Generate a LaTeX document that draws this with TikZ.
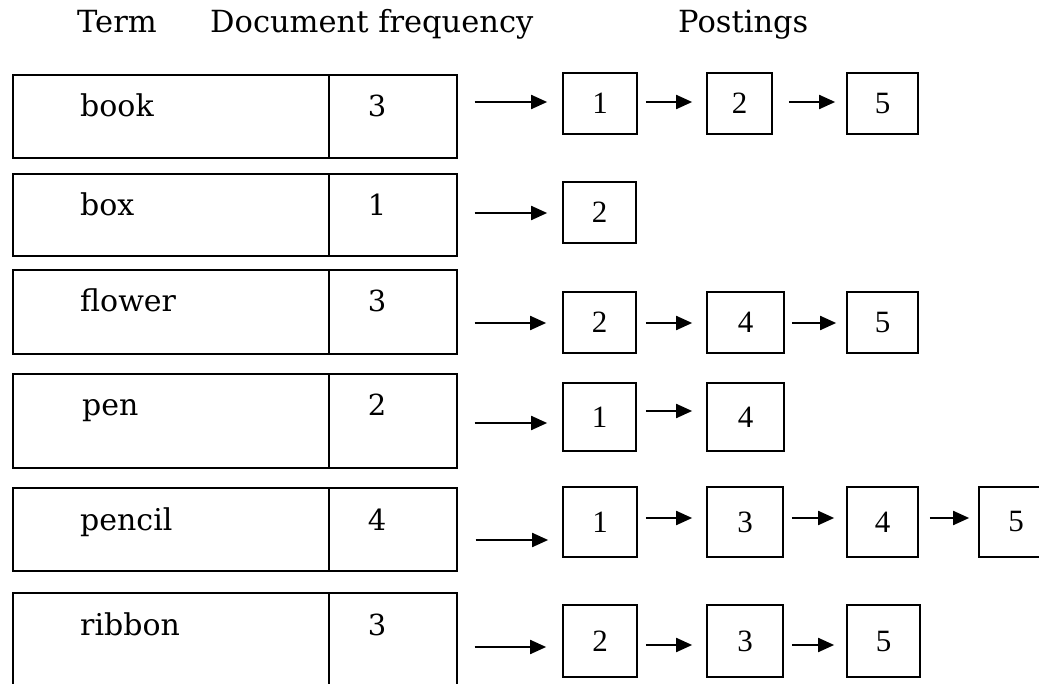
\documentclass[tikz,border=0pt]{standalone}
\usepackage{fontspec}
\setmainfont{DejaVu Serif}
\newfontfamily\tmsfont{Liberation Serif}
\usetikzlibrary{arrows.meta}
\newcommand\trow[6]{%
  \node[cell, minimum width=316pt, minimum height={(#3-#2)*1pt}] (#1t) at (12,#2) {};
  \node[cell, minimum width=128pt, minimum height={(#3-#2)*1pt}] (#1n) at (328,#2) {};
  \node[lbl] (#1tl) at (#6,{#2+43}) {#4};
  \node[num] (#1nl) at (377,{#2+43}) {#5};}
\newcommand\pbox[6]{%
  \node[pb, minimum width={(#4-#2)*1pt}, minimum height={(#5-#3)*1pt}] (#1) at ({(#2+#4)/2},{(#3+#5)/2}) {#6};}
\newcommand\parr[5]{%
  \draw[arr, shorten <=#4pt, shorten >=#5pt] (#1.east |- 0,#3) -- (#2.west |- 0,#3);}
\begin{document}
\begin{tikzpicture}[x=1pt,y=-1pt,
  cell/.style={draw, line width=1.7pt, inner sep=0pt, anchor=north west},
  pb/.style={draw, line width=1.7pt, inner sep=0pt, font=\tmsfont\fontsize{31}{31}\selectfont},
  lbl/.style={inner sep=0pt, anchor=base west, font=\fontsize{30}{32}\selectfont},
  num/.style={inner sep=0pt, anchor=base, font=\fontsize{29}{32}\selectfont},
  head/.style={inner sep=0pt, anchor=base west, font=\fontsize{30.5}{33}\selectfont},
  arr/.style={line width=1.9pt, -{Triangle[length=16pt,width=14pt]}},
]
\clip (0,0) rectangle (1039,684);
\fill[white] (0,0) rectangle (1039,684);

% headers
\node[head] (hterm) at (77,33) {Term};
\node[head] (hdf) at (210,33) {Document frequency};
\node[head] (hpost) at (678,33) {Postings};

% dictionary table
\trow{r1}{74}{157}{book}{3}{80}
\trow{r2}{173}{255}{box}{1}{80}
\trow{r3}{269}{353}{flower}{3}{80}
\trow{r4}{373}{467}{pen}{2}{82}
\trow{r5}{487}{570}{pencil}{4}{80}
\trow{r6}{592}{720}{ribbon}{3}{80}

% postings
\pbox{p11}{563}{73}{637}{134}{1}
\pbox{p12}{707}{73}{772}{134}{2}
\pbox{p13}{847}{73}{918}{134}{5}

\pbox{p21}{563}{182}{636}{243}{2}

\pbox{p31}{563}{292}{636}{353}{2}
\pbox{p32}{707}{292}{784}{353}{4}
\pbox{p33}{847}{292}{918}{353}{5}

\pbox{p41}{563}{383}{636}{451}{1}
\pbox{p42}{707}{383}{784}{451}{4}

\pbox{p51}{563}{487}{637}{557}{1}
\pbox{p52}{707}{487}{783}{557}{3}
\pbox{p53}{847}{487}{918}{557}{4}
\pbox{p54}{979}{487}{1053}{557}{5}

\pbox{p61}{563}{605}{637}{677}{2}
\pbox{p62}{707}{605}{783}{677}{3}
\pbox{p63}{847}{605}{920}{677}{5}

% arrows from dictionary to postings
\parr{r1n}{p11}{102}{17}{15}
\parr{r2n}{p21}{213}{17}{15}
\parr{r3n}{p31}{323}{17}{16}
\parr{r4n}{p41}{423}{17}{15}
\parr{r5n}{p51}{540}{18}{14}
\parr{r6n}{p61}{647}{17}{16}

% arrows between postings
\parr{p11}{p12}{102}{8}{14}
\parr{p12}{p13}{102}{16}{11}
\parr{p31}{p32}{323}{9}{14}
\parr{p32}{p33}{323}{7}{10}
\parr{p41}{p42}{411}{9}{14}
\parr{p51}{p52}{518}{8}{14}
\parr{p52}{p53}{518}{8}{12}
\parr{p53}{p54}{518}{11}{9}
\parr{p61}{p62}{645}{8}{14}
\parr{p62}{p63}{645}{8}{12}
\end{tikzpicture}
\end{document}
